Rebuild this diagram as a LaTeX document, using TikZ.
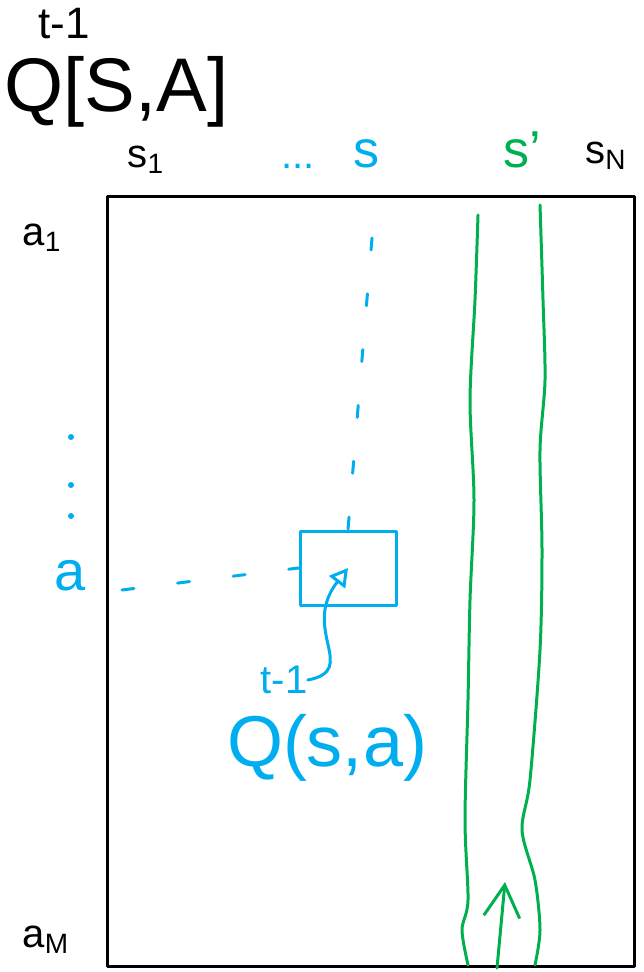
\documentclass[tikz,border=0pt]{standalone}
\usepackage{fontspec}
\setmainfont{Liberation Sans}
\usepackage{tikz}
\usetikzlibrary{arrows.meta,positioning,calc}
\definecolor{qblue}{HTML}{00AEEF}
\definecolor{qgreen}{HTML}{00B050}
\newcommand{\fsz}[1]{\fontsize{#1}{#1}\selectfont}
\tikzset{
  ink/.style={line width=1.5pt, line cap=round, line join=round},
  qdash/.style={ink, qblue, dash pattern=on 6pt off 22pt},
  cellbox/.style={draw=qblue, ink, minimum width=48pt, minimum height=37pt, inner sep=0pt},
  lbl/.style={inner sep=1pt, font=\fsz{20pt}},
}
\begin{document}
\begin{tikzpicture}[x=0.5pt,y=-0.5pt]
\useasboundingbox (0,0) rectangle (643,972);
% table of Q values
\draw[ink] (107,197) rectangle (634,966);
\node[font=\fsz{38pt}, inner sep=0pt, anchor=west] (title) at (4,92) {Q[S,A]};
\node[font=\fsz{22pt}, inner sep=0pt] (tsup) at (64,24) {t-1};
% states along the top
\node[lbl] (s1) at (146,160) {s\textsubscript{1}};
\node[lbl, qblue] (sdots) at (298,166) {...};
\node[lbl, qblue, font=\fsz{26pt}] (s) at (366,154) {s};
\node[lbl, qgreen, font=\fsz{26pt}] (snext) at (522,150) {s'};
\node[lbl] (sN) at (606,156) {s\textsubscript{N}};
% actions down the side
\node[lbl] (a1) at (42,238) {a\textsubscript{1}};
\foreach \y in {437,485,516}
  \fill[qblue] (71,\y) circle (1.5pt);
\node[lbl, qblue, font=\fsz{28pt}] (a) at (70,576) {a};
\node[lbl] (aM) at (46,940) {a\textsubscript{M}};
% the cell Q(s,a)
\node[cellbox] (cell) at (348,568) {};
\coordinate (stop) at (372,238);
\coordinate (aleft) at (122,590);
\draw[qdash] (stop) -- (cell.north);
\draw[qdash] (aleft) -- (cell.west);
\node[font=\fsz{36pt}, qblue, inner sep=0pt] (qsa) at (327,748) {Q(s,a)};
\node[font=\fsz{20pt}, qblue, inner sep=0pt] (qsup) at (284,680) {t-1};
\draw[ink, qblue, -{Triangle[open,length=9pt,width=10pt]}] (qsup.east) .. controls (360,670) and (300,630) .. (cell.center);
% column of s'
\draw[ink, qgreen] plot[smooth] coordinates {(478,215) (475,300) (470,400) (474,500) (470,600) (468,700) (465,820) (468,900) (462,930) (468,965)};
\draw[ink, qgreen] plot[smooth] coordinates {(540,205) (543,300) (545,380) (540,450) (542,550) (540,650) (530,780) (522,830) (535,880) (540,930) (535,965)};
\coordinate (gbot) at (497,968);
\coordinate (gtip) at (505,882);
\draw[ink, qgreen, -{Straight Barb[length=16pt,width=18pt]}] (gbot) -- (gtip);
\end{tikzpicture}
\end{document}
